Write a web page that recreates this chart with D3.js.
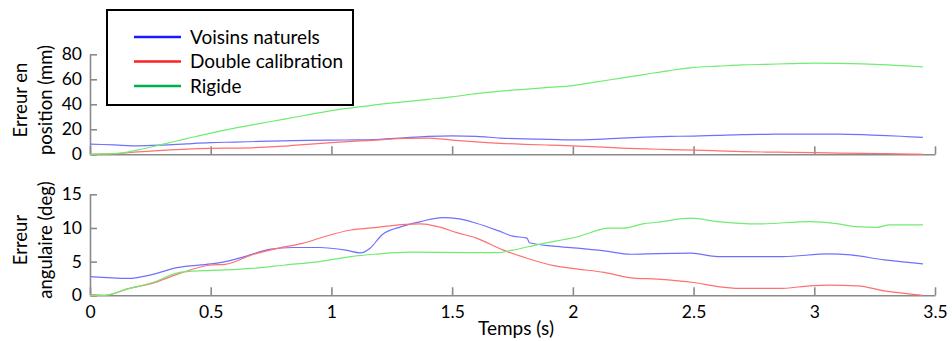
<!DOCTYPE html>
<html>
<head>
<meta charset="utf-8">
<script src="https://cdn.jsdelivr.net/npm/d3@7"></script>
<style>
  body { margin: 0; background: #fff; }
  #chart { width: 952px; height: 341px; }
  text { font-family: Lato, "Noto Sans", sans-serif; fill: #000; }
</style>
</head>
<body>
<div id="chart"></div>
<script>
// Series as [temps (s), valeur] pairs
const seriesNames = ["Voisins naturels", "Double calibration", "Rigide"];
const legendColors = ["#1a1aff", "#ff2020", "#00b050"];
const lineColors = ["#7070ff", "#ff7070", "#70ec70"];

// Erreur en position (mm)
const posVoisins = [[0,8.2],[0.1,7.5],[0.2,6.8],[0.3,7.4],[0.4,8.4],[0.5,9.3],[0.6,9.8],[0.7,10.3],[0.8,10.8],[0.9,11.2],[1.0,11.4],[1.1,11.5],[1.2,12],[1.3,13.2],[1.4,14.3],[1.5,14.8],[1.6,14.4],[1.7,13],[1.8,12.3],[1.9,12],[2.0,11.5],[2.1,12],[2.2,13],[2.3,13.8],[2.4,14.3],[2.5,14.6],[2.6,15.2],[2.7,15.8],[2.8,16],[2.9,16.2],[3.0,16.2],[3.1,16.2],[3.2,15.8],[3.3,15],[3.4,14],[3.45,13.5]];
const posDouble = [[0,0],[0.1,0.5],[0.2,2],[0.3,3.2],[0.4,4.2],[0.5,4.8],[0.6,5],[0.7,5.5],[0.8,6.5],[0.9,8],[1.0,9.3],[1.1,10.5],[1.2,11.5],[1.3,12.8],[1.4,13],[1.5,11.4],[1.6,10],[1.7,8.8],[1.8,8],[1.9,7.4],[2.0,6.8],[2.1,6],[2.2,5],[2.3,4.3],[2.4,3.8],[2.5,3.3],[2.6,2.8],[2.7,2.2],[2.8,1.8],[2.9,1.6],[3.0,1.4],[3.1,1],[3.2,0.8],[3.3,0.6],[3.4,0.2],[3.45,0]];
const posRigide = [[0,0],[0.1,0.5],[0.2,3.5],[0.3,8],[0.4,12.5],[0.5,17],[0.6,21],[0.7,24.5],[0.8,28],[0.9,31.5],[1.0,35],[1.1,37.5],[1.2,40],[1.3,42],[1.4,44],[1.5,46],[1.6,48.5],[1.7,50.5],[1.8,52],[1.9,53.5],[2.0,55],[2.1,58],[2.2,61],[2.3,64],[2.4,67],[2.5,69.5],[2.6,70.5],[2.7,71.5],[2.8,72],[2.9,72.5],[3.0,73],[3.1,72.8],[3.2,72.3],[3.3,71.5],[3.4,70.5],[3.45,70]];

// Erreur angulaire (deg)
const angVoisins = [[0,2.77],[0.16,2.5],[0.26,3.1],[0.36,4.1],[0.5,4.66],[0.56,5.0],[0.64,5.75],[0.75,6.85],[0.84,7.1],[0.95,7.1],[1.06,6.7],[1.12,6.3],[1.16,7],[1.21,9],[1.29,10.2],[1.37,10.95],[1.46,11.55],[1.53,11.35],[1.6,10.7],[1.69,9.6],[1.75,8.8],[1.81,8.5],[1.82,7.8],[1.92,7.3],[2.02,7.0],[2.13,6.6],[2.24,6.1],[2.35,6.2],[2.49,6.25],[2.6,5.75],[2.87,5.75],[3.06,6.15],[3.15,6.0],[3.29,5.25],[3.45,4.66]];
const angDouble = [[0,0.1],[0.06,0],[0.16,1.0],[0.26,1.8],[0.36,3.1],[0.5,4.5],[0.56,4.6],[0.67,6.0],[0.78,7.0],[0.88,7.7],[0.97,8.7],[1.08,9.7],[1.18,10.06],[1.29,10.5],[1.37,10.6],[1.44,10.2],[1.52,9.3],[1.6,8.5],[1.71,6.75],[1.81,5.5],[1.92,4.4],[2.02,3.9],[2.13,3.4],[2.24,2.6],[2.35,2.4],[2.5,1.9],[2.6,1.3],[2.69,1.04],[2.87,1.04],[2.98,1.4],[3.06,1.5],[3.18,1.4],[3.29,0.65],[3.45,0]];
const angRigide = [[0,0],[0.06,0],[0.16,1.0],[0.26,1.9],[0.36,3.3],[0.43,3.6],[0.56,3.77],[0.67,4.0],[0.81,4.5],[0.95,5.0],[1.08,5.75],[1.18,6.1],[1.33,6.4],[1.57,6.35],[1.69,6.35],[1.75,6.7],[1.85,7.5],[2.02,8.7],[2.15,9.97],[2.21,9.97],[2.29,10.6],[2.35,10.85],[2.49,11.45],[2.6,10.95],[2.77,10.6],[2.98,10.95],[3.1,10.6],[3.17,10.2],[3.26,10.1],[3.31,10.45],[3.45,10.45]];

const xTicks = [0, 0.5, 1, 1.5, 2, 2.5, 3, 3.5];
const posTicks = [0, 20, 40, 60, 80];
const angTicks = [0, 5, 10, 15];

const width = 952, height = 341;
const svg = d3.select("#chart").append("svg")
    .attr("width", width)
    .attr("height", height);

const x = d3.scaleLinear().domain([0, 3.5]).range([90, 935]);
const yPos = d3.scaleLinear().domain([0, 80]).range([154.3, 54.3]);
const yAng = d3.scaleLinear().domain([0, 15]).range([295.3, 194.3]);

function drawPanel(y, ticks, series, showLabels) {
    const y0 = y.range()[0];

    // x axis, ticks pointing up into the plot
    const xa = svg.append("g")
        .attr("transform", `translate(0,${y0})`)
        .call(d3.axisBottom(x).tickValues(xTicks)
            .tickSizeInner(-8).tickSizeOuter(0).tickPadding(11)
            .tickFormat(showLabels ? d3.format("") : () => ""));
    // y axis, ticks pointing right
    const ya = svg.append("g")
        .attr("transform", "translate(90,0)")
        .call(d3.axisLeft(y).tickValues(ticks)
            .tickSizeInner(-7).tickSizeOuter(0).tickPadding(8));

    [xa, ya].forEach(a => {
        a.select(".domain").attr("stroke", "#8a8a8a").attr("stroke-width", 1.6);
        a.selectAll(".tick line").attr("stroke", "#8a8a8a").attr("stroke-width", 1.6);
        a.selectAll(".tick text").attr("font-size", "17.5px").attr("fill", "#000")
            .style("font-family", "Lato, 'Noto Sans', sans-serif");
    });
    xa.selectAll(".tick text").attr("dy", "0.68em");

    const line = d3.line()
        .x(d => x(d[0]))
        .y(d => y(d[1]))
        .curve(d3.curveMonotoneX);

    series.forEach((s, i) => {
        svg.append("path")
            .datum(s)
            .attr("fill", "none")
            .attr("stroke", lineColors[i])
            .attr("stroke-width", 1.2)
            .attr("d", line);
    });
}

drawPanel(yPos, posTicks, [posVoisins, posDouble, posRigide], false);
drawPanel(yAng, angTicks, [angVoisins, angDouble, angRigide], true);

// Axis titles
function yTitle(lines, cy) {
    const t = svg.append("text")
        .attr("transform", `translate(0,${cy}) rotate(-90)`)
        .attr("text-anchor", "middle")
        .attr("font-size", "18.5px");
    lines.forEach((l, i) => {
        t.append("tspan").attr("x", 0).attr("y", 27 + i * 25).text(l);
    });
}
yTitle(["Erreur en", "position (mm)"], 100);
yTitle(["Erreur", "angulaire (deg)"], 240);

svg.append("text")
    .attr("x", 516)
    .attr("y", 335)
    .attr("text-anchor", "middle")
    .attr("font-size", "19px")
    .text("Temps (s)");

// Legend
const legend = svg.append("g");
legend.append("rect")
    .attr("x", 107).attr("y", 10)
    .attr("width", 246).attr("height", 95)
    .attr("fill", "#fff")
    .attr("stroke", "#000")
    .attr("stroke-width", 2);

seriesNames.forEach((name, i) => {
    const ly = 37 + i * 24.5;
    legend.append("line")
        .attr("x1", 134).attr("x2", 181)
        .attr("y1", ly).attr("y2", ly)
        .attr("stroke", legendColors[i])
        .attr("stroke-width", 2.5);
    legend.append("text")
        .attr("x", 190).attr("y", ly)
        .attr("dy", "0.35em")
        .attr("font-size", "19px")
        .text(name);
});
</script>
</body>
</html>
